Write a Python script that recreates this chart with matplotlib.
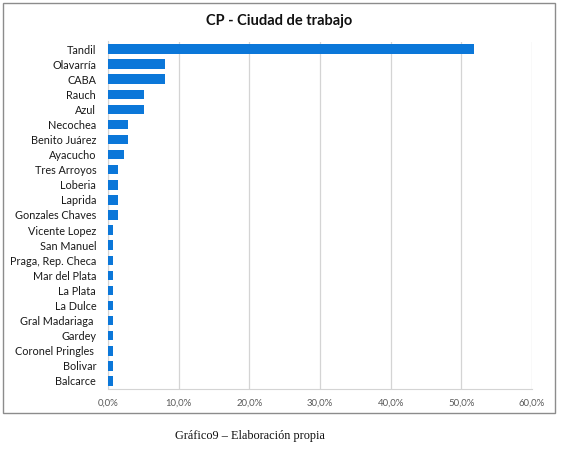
import matplotlib
matplotlib.use("Agg")
import matplotlib.pyplot as plt
from matplotlib.patches import Rectangle
from matplotlib.ticker import FuncFormatter

categories = ["Tandil", "Olavarría", "CABA", "Rauch", "Azul", "Necochea",
              "Benito Juárez", "Ayacucho", "Tres Arroyos", "Loberia", "Laprida",
              "Gonzales Chaves", "Vicente Lopez", "San Manuel", "Praga, Rep. Checa",
              "Mar del Plata", "La Plata", "La Dulce", "Gral Madariaga ", "Gardey",
              "Coronel Pringles ", "Bolivar", "Balcarce"]
values = [51.8, 8.0, 8.0, 5.1, 5.1, 2.9, 2.9, 2.2, 1.46, 1.46, 1.46, 1.46,
          0.73, 0.73, 0.73, 0.73, 0.73, 0.73, 0.73, 0.73, 0.73, 0.73, 0.73]
xticks = [0, 10, 20, 30, 40, 50, 60]

W, H = 572, 467
fig = plt.figure(figsize=(W / 100, H / 100), dpi=100)
fig.patch.set_facecolor("white")

# outer chart frame
fig.add_artist(Rectangle((2.5 / W, 1 - 412.5 / H), (555 - 2.5) / W, (412.5 - 2.5) / H,
                         transform=fig.transFigure, fill=False, edgecolor="#8c8c8c", lw=1.0))

left, right, top, bottom = 108, 532, 41.5, 388.5
ax = fig.add_axes([left / W, 1 - bottom / H, (right - left) / W, (bottom - top) / H])

font = "Lato"
y = list(range(len(categories)))
ax.barh(y, values, height=0.63, color="#0b77d9", zorder=3)
ax.set_ylim(len(categories) - 0.5, -0.5)
ax.set_xlim(0, 60)
ax.set_xticks(xticks)
ax.xaxis.set_major_formatter(FuncFormatter(lambda v, p: f"{v:.1f}%".replace(".", ",")))
ax.set_yticks(y)
ax.set_yticklabels(categories, fontfamily=font, fontsize=7.8, color="#1a1a1a")
for lab in ax.get_xticklabels():
    lab.set_fontfamily(font)
    lab.set_fontsize(6.9)
    lab.set_color("#595959")
ax.grid(axis="x", color="#d4d4d4", lw=0.9, zorder=0)
ax.tick_params(axis="both", length=0)
ax.tick_params(axis="y", pad=8.5)
ax.tick_params(axis="x", pad=7)
for s in ["top", "right"]:
    ax.spines[s].set_visible(False)
ax.spines["left"].set_color("#d4d4d4")
ax.spines["bottom"].set_color("#d4d4d4")

fig.text(279 / W, 1 - 21 / H, "CP - Ciudad de trabajo", ha="center", va="center",
         fontfamily=font, fontweight="bold", fontsize=10.5, color="#111111")
fig.text(250 / W, 1 - 436 / H, "Gráfico9 – Elaboración propia", ha="center", va="center",
         fontfamily="Liberation Serif", fontsize=8.8, color="#111111")

fig.savefig("out.png", dpi=100, facecolor="white")
